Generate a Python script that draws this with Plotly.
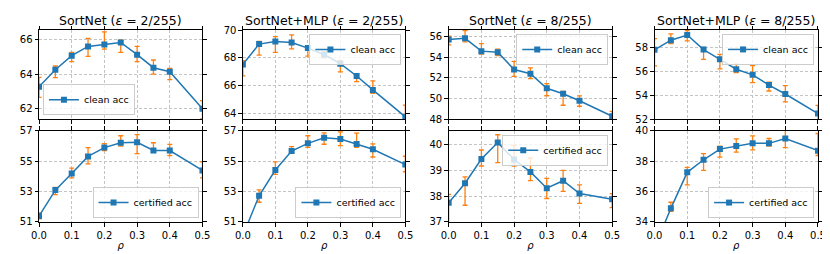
import plotly.graph_objects as go

rho = [0.0, 0.05, 0.1, 0.15, 0.2, 0.25, 0.3, 0.35, 0.4, 0.5]

titles = ["SortNet (<i>ε</i> = 2/255)", "SortNet+MLP (<i>ε</i> = 2/255)",
          "SortNet (<i>ε</i> = 8/255)", "SortNet+MLP (<i>ε</i> = 8/255)"]

# clean accuracy: mean, upper, lower
clean_mean = [
    [63.26, 64.25, 65.07, 65.61, 65.73, 65.84, 65.13, 64.37, 64.14, 61.98],
    [67.53, 68.99, 69.18, 69.10, 68.70, 68.24, 67.58, 66.70, 65.70, 63.76],
    [55.72, 55.84, 54.60, 54.49, 52.82, 52.41, 51.00, 50.47, 49.78, 48.28],
    [57.79, 58.60, 59.03, 57.81, 57.00, 56.17, 55.70, 54.85, 54.10, 52.47],
]
clean_hi = [
    [63.81, 64.47, 65.26, 66.08, 66.46, 65.98, 65.61, 64.82, 64.33, 62.45],
    [67.80, 69.18, 69.53, 69.65, 68.87, 68.40, 67.82, 66.87, 66.35, 64.60],
    [56.06, 56.60, 55.33, 54.80, 53.60, 52.98, 51.45, 50.70, 50.25, 48.75],
    [58.73, 59.13, 59.40, 58.00, 57.41, 56.60, 56.47, 55.10, 54.80, 53.15],
]
clean_lo = [
    [62.64, 63.79, 64.72, 65.03, 65.46, 65.26, 64.72, 64.00, 63.67, 61.38],
    [66.70, 68.19, 68.40, 68.64, 68.12, 68.00, 67.00, 66.30, 65.46, 63.50],
    [55.20, 55.50, 54.32, 54.17, 52.15, 51.94, 50.27, 49.35, 49.25, 47.90],
    [56.46, 58.32, 58.54, 57.00, 56.20, 55.90, 55.05, 54.35, 53.45, 51.90],
]

cert_mean = [
    [51.39, 53.10, 54.20, 55.32, 55.90, 56.22, 56.25, 55.71, 55.71, 54.40],
    [50.10, 52.73, 54.42, 55.67, 56.18, 56.55, 56.46, 56.14, 55.79, 54.78],
    [37.75, 38.50, 39.44, 40.08, 39.42, 38.94, 38.31, 38.60, 38.10, 37.88],
    [32.30, 34.90, 37.27, 38.10, 38.80, 39.00, 39.18, 39.18, 39.50, 38.70],
]
cert_hi = [
    [51.60, 53.28, 54.55, 55.90, 56.16, 56.68, 56.76, 56.22, 56.11, 54.96],
    [50.40, 53.12, 54.96, 55.97, 56.68, 56.87, 56.93, 56.86, 56.14, 55.33],
    [38.07, 38.75, 39.79, 40.38, 39.97, 39.48, 38.69, 39.00, 38.44, 38.10],
    [32.60, 35.30, 37.60, 38.50, 39.00, 39.47, 39.67, 39.50, 40.10, 39.83],
]
cert_lo = [
    [51.20, 52.80, 53.90, 54.83, 55.70, 56.00, 55.50, 55.58, 55.37, 53.90],
    [49.80, 52.30, 54.14, 55.54, 55.92, 56.12, 56.03, 55.92, 55.28, 54.31],
    [36.90, 37.65, 39.17, 39.30, 39.17, 38.60, 37.91, 38.19, 37.72, 37.56],
    [32.00, 34.70, 36.44, 37.40, 38.27, 38.60, 38.75, 39.00, 38.90, 38.38],
]

top_ranges = [[61.37, 66.57], [63.6, 70.0], [48.0, 56.65], [52.0, 59.45]]
top_ticks = [[62, 64, 66], [64, 66, 68, 70], [48, 50, 52, 54, 56], [52, 54, 56, 58]]
bot_ranges = [[51, 57], [51, 57], [37, 40.53], [34, 40]]
bot_ticks = [[51, 53, 55, 57], [51, 53, 55, 57], [37, 38, 39, 40], [34, 36, 38, 40]]
xticks = [0.0, 0.1, 0.2, 0.3, 0.4, 0.5]

BLUE = "#1f77b4"
ORANGE = "#ff7f0e"
FONT = "DejaVu Sans"

W, H = 830, 254
ML, MR, MT, MB = 26, 13, 22, 36
PW, PH = W - ML - MR, H - MT - MB

def px_x(p):
    return (p - ML) / PW

def px_y(p):
    return (H - MB - p) / PH

col_px = [(26, 192), (233, 398), (442, 608), (651, 817)]
row_px = [(22, 113), (125, 218)]

fig = go.Figure()
layout = {}

legend_cfg = {
    (0, 0): "ll", (1, 0): "lr",
    (0, 1): "ur", (1, 1): "lr",
    (0, 2): "ur", (1, 2): "ur",
    (0, 3): "ur", (1, 3): "lr",
}

for r in range(2):
    for c in range(4):
        i = r * 4 + c + 1
        xa = "x" if i == 1 else f"x{i}"
        ya = "y" if i == 1 else f"y{i}"
        lg = "legend" if i == 1 else f"legend{i}"
        if r == 0:
            mean, hi, lo, name = clean_mean[c], clean_hi[c], clean_lo[c], "clean acc"
            yr, yt = top_ranges[c], top_ticks[c]
        else:
            mean, hi, lo, name = cert_mean[c], cert_hi[c], cert_lo[c], "certified acc"
            yr, yt = bot_ranges[c], bot_ticks[c]
        fig.add_trace(go.Scatter(
            x=rho, y=mean, mode="lines+markers", name=name,
            xaxis=xa, yaxis=ya, legend=lg, showlegend=True,
            line=dict(color=BLUE, width=1.5),
            marker=dict(symbol="square", size=6, color=BLUE),
            error_y=dict(type="data", symmetric=False,
                         array=[h - m for h, m in zip(hi, mean)],
                         arrayminus=[m - l for m, l in zip(mean, lo)],
                         color=ORANGE, thickness=1.3, width=2.5),
            cliponaxis=True,
        ))
        x0, x1 = col_px[c]
        y0, y1 = row_px[r]
        dx = [px_x(x0), px_x(x1)]
        dy = [px_y(y1), px_y(y0)]
        xkey = "xaxis" if i == 1 else f"xaxis{i}"
        ykey = "yaxis" if i == 1 else f"yaxis{i}"
        axcommon = dict(showline=True, linecolor="black", linewidth=1, mirror="ticks",
                        ticks="outside", ticklen=3.5, tickcolor="black", tickwidth=1,
                        showgrid=True, gridcolor="#c4c4c4", griddash="3px,2px", gridwidth=0.8,
                        zeroline=False, tickfont=dict(family=FONT, size=10, color="black"))
        layout[xkey] = dict(domain=dx, anchor=ya, range=[0, 0.5], tickvals=xticks,
                            ticktext=[f"{v:.1f}" for v in xticks],
                            showticklabels=(r == 1), **axcommon)
        if r == 1:
            layout[xkey]["title"] = dict(text="<i>ρ</i>", standoff=2,
                                         font=dict(family=FONT, size=10, color="black"))
        layout[ykey] = dict(domain=dy, anchor=xa, range=yr, tickvals=yt, **axcommon)

        corner = legend_cfg[(r, c)]
        pad = 4
        if corner == "ll":
            lx, ly, xan, yan = px_x(x0 + pad), px_y(y1 - pad), "left", "bottom"
        elif corner == "lr":
            lx, ly, xan, yan = px_x(x1 - pad), px_y(y1 - pad), "right", "bottom"
        else:
            lx, ly, xan, yan = px_x(x1 - pad), px_y(y0 + pad), "right", "top"
        layout[lg] = dict(x=lx, y=ly, xanchor=xan, yanchor=yan, visible=True,
                          bgcolor="rgba(255,255,255,0.8)", bordercolor="#cccccc", borderwidth=1,
                          font=dict(family=FONT, size=9.5, color="black"),
                          tracegroupgap=0)

annotations = []
for c in range(4):
    x0, x1 = col_px[c]
    annotations.append(dict(text=titles[c], x=px_x((x0 + x1) / 2), y=px_y(12),
                            xref="paper", yref="paper", xanchor="center", yanchor="middle",
                            showarrow=False, font=dict(family=FONT, size=12.5, color="black")))

fig.update_layout(
    width=W, height=H, margin=dict(l=ML, r=MR, t=MT, b=MB),
    paper_bgcolor="white", plot_bgcolor="white", showlegend=True,
    font=dict(family=FONT, size=10, color="black"),
    annotations=annotations, **layout,
)

fig.write_html("out.html")
